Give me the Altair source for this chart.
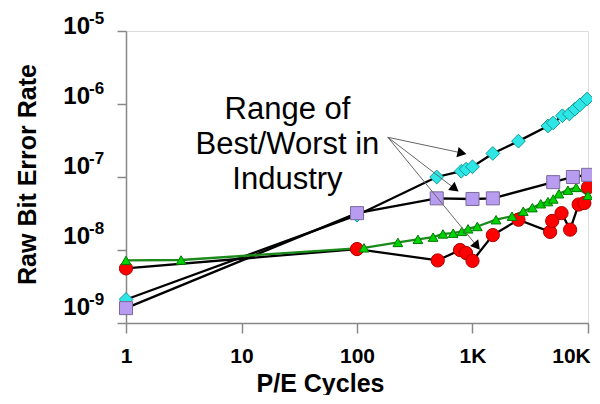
import altair as alt
import pandas as pd

# ---- data ----
cyan_x = [1, 100, 490, 800, 880, 1000, 1500, 2500, 4500, 5000, 6000, 6900, 7700, 8500, 9800]
cyan_y = [2.1e-9, 3.0e-8, 1.0e-7, 1.2e-7, 1.28e-7, 1.38e-7, 2.1e-7, 3.1e-7, 5.0e-7, 5.5e-7,
          6.9e-7, 7.3e-7, 8.5e-7, 9.7e-7, 1.17e-6]

purple_x = [1, 100, 490, 1000, 1500, 5000, 7400, 10000]
purple_y = [1.6e-9, 3.2e-8, 5.1e-8, 5.0e-8, 5.1e-8, 8.5e-8, 1.0e-7, 1.07e-7]

green_x = [1, 3, 115, 226, 337, 456, 555, 680, 810, 915, 1100, 1600, 2200, 2750, 3300,
           3900, 4500, 5000, 5600, 6700, 7900, 10000]
green_y = [7.2e-9, 7.3e-9, 1.07e-8, 1.27e-8, 1.4e-8, 1.5e-8, 1.66e-8, 1.7e-8, 1.8e-8,
           1.95e-8, 2.1e-8, 2.6e-8, 2.9e-8, 3.4e-8, 3.8e-8, 4.3e-8, 4.6e-8, 5.0e-8,
           5.9e-8, 6.6e-8, 7.2e-8, 5.6e-8]

red_x = [1, 100, 500, 780, 880, 1000, 1500, 2500, 4700, 4900, 5900, 7000, 8300, 9300, 10000]
red_y = [5.6e-9, 1.03e-8, 7.2e-9, 1.0e-8, 9.1e-9, 7.1e-9, 1.6e-8, 2.6e-8, 1.77e-8, 2.5e-8,
         3.2e-8, 1.9e-8, 4.2e-8, 4.4e-8, 7.2e-8]

x_tick_values = [1, 10, 100, 1000, 10000]
x_tick_labels = ["1", "10", "100", "1K", "10K"]
y_tick_values = [1e-5, 1e-6, 1e-7, 1e-8, 1e-9]
y_tick_base = ["10", "10", "10", "10", "10"]
y_tick_exp = ["-5", "-6", "-7", "-8", "-9"]

ann_lines = ["Range of", "Best/Worst in", "Industry"]
ann_x = [25, 25, 25]
ann_y = [8.3e-7, 2.75e-7, 9.1e-8]

arrow_x1 = [185, 185, 185]
arrow_y1 = [3.5e-7, 3.5e-7, 3.5e-7]
arrow_x2 = [811, 705, 1094]
arrow_y2 = [2.13e-7, 6.9e-8, 1.13e-8]
arrow_angle = [12, 38, 51]

FONT = "Liberation Sans"
# vertical nudge of each y tick label (styling: the labels sit above their ticks)
label_dy = [-4, -7, -10, -13, -15]

# ---- tables ----
def series(xs, ys):
    return pd.DataFrame({"x": xs, "y": ys})

cyan = series(cyan_x, cyan_y)
purple = series(purple_x, purple_y)
green = series(green_x, green_y)
red = series(red_x, red_y)
yticks = pd.DataFrame({"y": y_tick_values, "base": y_tick_base, "exp": y_tick_exp})
ann = pd.DataFrame({"x": ann_x, "y": ann_y, "t": ann_lines})
arrows = pd.DataFrame({"x": arrow_x1, "y": arrow_y1, "x2": arrow_x2, "y2": arrow_y2,
                       "ex": arrow_x2, "ey": arrow_y2, "a": arrow_angle})

xs = alt.Scale(type="log", domain=[1, 10000], nice=False)
ys = alt.Scale(type="log", domain=[1e-9, 1e-5], nice=False)

label_expr = "[{}][indexof([{}], datum.value)]".format(
    ",".join("'%s'" % s for s in x_tick_labels), ",".join(str(v) for v in x_tick_values))

x_axis = alt.Axis(values=x_tick_values, labelExpr=label_expr, title="P/E Cycles",
                  grid=False, tickSize=10, labelPadding=12, labelFontSize=21,
                  labelFontWeight="bold", labelFont=FONT, labelColor="black",
                  labelOffset=alt.condition("datum.value == 10000", alt.value(-17), alt.value(0)),
                  titleFontSize=25, titleFontWeight="bold", titleFont=FONT,
                  titleColor="black", titleX=194, titleY=60, titleBaseline="middle",
                  titleAlign="center", domainColor="#888888", tickColor="#888888",
                  domainWidth=1.5, tickWidth=1.5, labelOverlap=False, labelFlush=False)
y_axis = alt.Axis(values=y_tick_values, labels=False, title="Raw Bit Error Rate",
                  grid=False, tickSize=9, titleFontSize=25, titleFontWeight="bold",
                  titleFont=FONT, titleColor="black", titleX=-99, titleY=143,
                  titleBaseline="middle", titleAlign="center", titleAngle=270,
                  domainColor="#888888", tickColor="#888888", domainWidth=1.5,
                  tickWidth=1.5)

X = alt.X("x:Q", scale=xs, axis=x_axis)
Y = alt.Y("y:Q", scale=ys, axis=y_axis)


def line(df, color):
    return alt.Chart(df).mark_line(color=color, strokeWidth=2.3).encode(x=X, y=Y)


def pts(df, shape, fill, stroke, size):
    return alt.Chart(df).mark_point(shape=shape, filled=True, fill=fill, stroke=stroke,
                                    strokeWidth=1, size=size, opacity=1).encode(x=X, y=Y)


lines = (line(cyan, "black") + line(purple, "black") + line(red, "black")
         + line(green, "#1b8a1b"))
markers = (pts(cyan, "diamond", "#2ee6e6", "#129a9a", 190)
           + pts(red, "circle", "#ff0000", "#b00000", 175)
           + pts(green, "triangle-up", "#00d400", "#007a00", 95)
           + pts(purple, "square", "#b79cf0", "#7b6a9c", 170))

arrow_lines = alt.Chart(arrows).mark_rule(color="#666666", strokeWidth=1).encode(
    x=X, y=Y, x2="x2:Q", y2="y2:Q")
arrow_heads = alt.Chart(arrows).mark_point(shape="triangle-right", filled=True,
                                           color="black", size=110, opacity=1).encode(
    x=alt.X("ex:Q", scale=xs, axis=x_axis), y=alt.Y("ey:Q", scale=ys, axis=y_axis),
    angle=alt.Angle("a:Q", scale=None))

ann_text = alt.Chart(ann).mark_text(font=FONT, fontSize=31, color="black",
                                    align="center", baseline="middle").encode(
    x=X, y=Y, text="t:N")

tick_layers = []
for i in range(len(y_tick_values)):
    row = yticks.iloc[[i]]
    tick_layers.append(alt.Chart(row).mark_text(
        font=FONT, fontSize=24, fontWeight="bold", color="black", align="right",
        baseline="middle", dy=label_dy[i]).encode(x=alt.value(-36), y=Y, text="base:N"))
    tick_layers.append(alt.Chart(row).mark_text(
        font=FONT, fontSize=17, fontWeight="bold", color="black", align="left",
        baseline="middle", dy=label_dy[i] - 8).encode(x=alt.value(-37), y=Y, text="exp:N"))

chart = alt.layer(lines, markers, arrow_lines, arrow_heads, ann_text, *tick_layers).properties(
    width=462, height=292,
    autosize=alt.AutoSizeParams(type="none"),
    padding={"left": 118, "top": 23, "right": 4, "bottom": 72},
).configure_view(stroke="#c4c4c4", strokeWidth=2).configure(background="white")

chart.save("out.html", embed_options={"renderer": "svg", "actions": False})
